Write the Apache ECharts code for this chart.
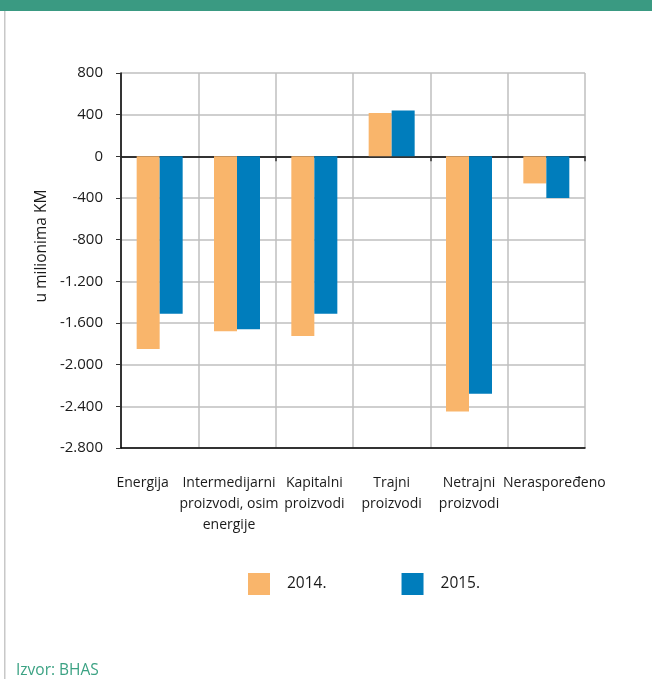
<!DOCTYPE html>
<html>
<head>
<meta charset="utf-8">
<script src="https://cdn.jsdelivr.net/npm/echarts@6/dist/echarts.min.js"></script>
<style>
  html, body { margin: 0; padding: 0; background: #fff; }
  #chart { width: 652px; height: 679px; }
</style>
</head>
<body>
<div id="chart"></div>
<script>
// Trgovinski bilans po grupama proizvoda (u milionima KM)
const categories = [
  'Energija',
  'Intermedijarni\nproizvodi, osim\nenergije',
  'Kapitalni\nproizvodi',
  'Trajni\nproizvodi',
  'Netrajni\nproizvodi',
  'Neraspoređeno'
];
const values2014 = [-1850, -1680, -1725, 415, -2450, -260];
const values2015 = [-1510, -1660, -1510, 440, -2280, -400];
const seriesNames = ['2014.', '2015.'];
const yTicks = { min: -2800, max: 800, step: 400 };

// per-label horizontal nudge (px), keeps wide labels inside the frame
const labelShift = [-17, -8, 0, 0, 0, 8];

const fontFamily = '"Open Sans", "Noto Sans", sans-serif';
const textColor = '#1a1a1a';
const orange = '#F9B56B';
const blue = '#007DBC';
const grid = '#BFBFBF';

function fmtThousands(v) {
  const s = Math.abs(v).toString().replace(/\B(?=(\d{3})+(?!\d))/g, '.');
  return (v < 0 ? '-' : '') + s;
}

const rich = {};
labelShift.forEach((d, i) => {
  rich['c' + i] = {
    fontFamily, fontSize: 14, color: textColor, lineHeight: 21,
    padding: d < 0 ? [0, -2 * d, 0, 0] : [0, 0, 0, 2 * d]
  };
});

const chart = echarts.init(document.getElementById('chart'), null, { renderer: 'canvas' });

chart.setOption({
  animation: false,
  backgroundColor: '#fff',
  grid: { left: 121, top: 73, width: 464, height: 375, containLabel: false },
  legend: {
    data: seriesNames,
    left: 248,
    top: 573,
    padding: 0,
    itemWidth: 22,
    itemHeight: 22,
    itemGap: 75,
    icon: 'rect',
    textStyle: { fontFamily, fontSize: 15.5, color: textColor, padding: [0, 0, 0, 12] }
  },
  xAxis: [
    {
      type: 'category',
      data: categories,
      position: 'bottom',
      axisLine: { onZero: false, lineStyle: { color: '#000', width: 1.5 } },
      axisTick: { show: false },
      splitLine: { show: true, lineStyle: { color: grid, width: 1.5 } },
      axisLabel: {
        interval: 0,
        margin: 25,
        formatter: (v, i) => v.split('\n').map(l => '{c' + i + '|' + l + '}').join('\n'),
        rich
      }
    },
    {
      // zero line with boundary ticks
      type: 'category',
      data: categories,
      position: 'top',
      axisLine: { onZero: true, lineStyle: { color: '#000', width: 1.5 } },
      axisTick: { show: true, inside: true, length: 5, lineStyle: { color: '#333', width: 1.5 } },
      axisLabel: { show: false },
      splitLine: { show: false }
    }
  ],
  yAxis: {
    type: 'value',
    min: yTicks.min,
    max: yTicks.max,
    interval: yTicks.step,
    axisLine: { show: true, lineStyle: { color: '#000', width: 1.5 } },
    axisTick: { show: true, length: 5, lineStyle: { color: '#333' } },
    splitLine: { lineStyle: { color: grid, width: 1.5 } },
    axisLabel: {
      margin: 18,
      fontFamily, fontSize: 15, color: textColor,
      formatter: fmtThousands
    }
  },
  series: [
    {
      name: seriesNames[0], type: 'bar', data: values2014,
      barWidth: 23, barGap: '0%',
      itemStyle: { color: orange }
    },
    {
      name: seriesNames[1], type: 'bar', data: values2015,
      barWidth: 23, barGap: '0%',
      itemStyle: { color: blue }
    }
  ],
  graphic: [
    { type: 'rect', left: 0, top: 0, shape: { width: 652, height: 11 }, style: { fill: '#3A9A82' }, silent: true },
    { type: 'rect', left: 4, top: 11, shape: { width: 1.5, height: 668 }, style: { fill: '#C8C8C8' }, silent: true },
    {
      type: 'text', x: 42, y: 246, rotation: Math.PI / 2,
      style: { text: 'u milionima KM', fontFamily, fontSize: 15.5, fill: textColor, align: 'center', verticalAlign: 'middle' }
    },
    {
      type: 'text', left: 16, top: 663,
      style: { text: 'Izvor: BHAS', fontFamily, fontSize: 15.5, fill: '#3BA283' }
    }
  ]
});
</script>
</body>
</html>
